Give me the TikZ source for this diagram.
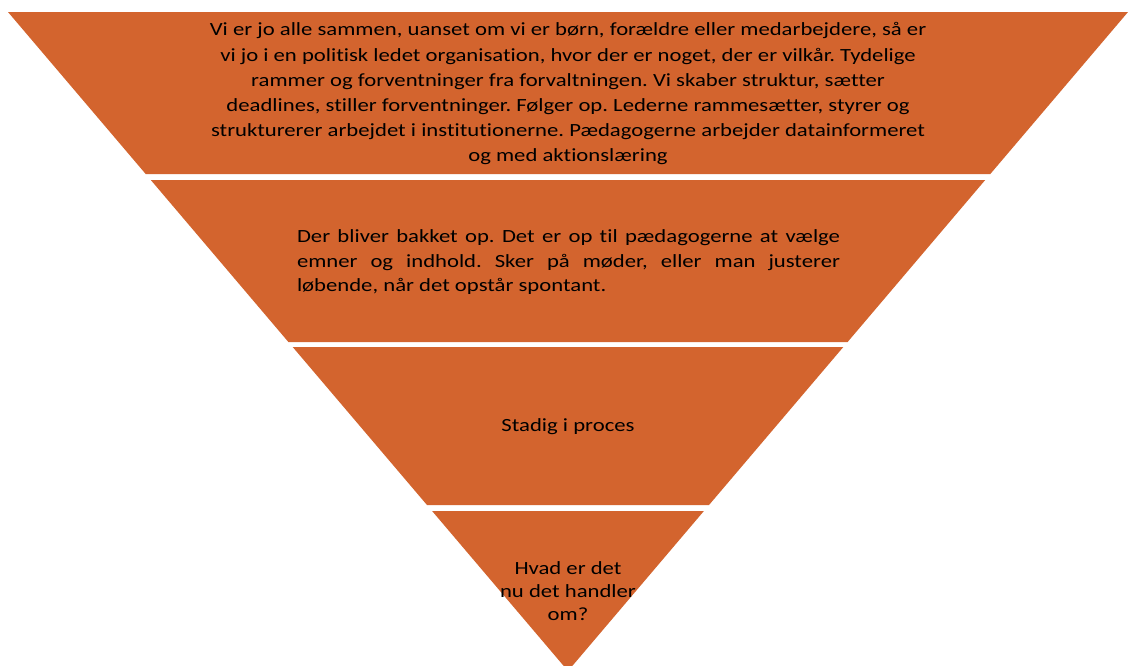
\documentclass[tikz,border=0pt]{standalone}
\usepackage{fontspec}
\setmainfont{Carlito}[FakeStretch=1.22,Ligatures=NoCommon]
\definecolor{pyramid}{HTML}{D3642E}
\frenchspacing

\begin{document}
\begin{tikzpicture}[x=1pt,y=-1pt,
    band/.style={fill=pyramid,draw=none},
    bandtext/.style={font=\fontsize{18.6}{24.5}\selectfont,align=center,inner sep=0pt}]
    \clip (0,0) rectangle (1128,665);
    \fill[white] (0,0) rectangle (1128,665);
    % four slices of the inverted triangle
    \fill[band] (8,12) -- (1128,12) -- (990.3,174) -- (145.7,174) -- cycle;
    \fill[band] (150.8,180) -- (985.2,180) -- (847.6,342) -- (288.4,342) -- cycle;
    \fill[band] (292.7,347) -- (843.3,347) -- (709.0,505) -- (427.0,505) -- cycle;
    \fill[band] (432.1,511) -- (703.9,511) -- (568,671) -- cycle;
    % texts
    \node[bandtext,font=\fontsize{18.6}{25.2}\selectfont] (rammer) at (568,94) {Vi er jo alle sammen, uanset om vi er børn, forældre eller medarbejdere, så er\\
        vi jo i en politisk ledet organisation, hvor der er noget, der er vilkår. Tydelige\\
        rammer og forventninger fra forvaltningen. Vi skaber struktur, sætter\\
        deadlines, stiller forventninger. Følger op. Lederne rammesætter, styrer og\\
        strukturerer arbejdet i institutionerne. Pædagogerne arbejder datainformeret\\
        og med aktionslæring};
    \node[bandtext,align=justify,text width=543pt] (bakket) at (568.5,262.5) {Der bliver bakket op. Det er op til pædagogerne at vælge\linebreak
        emner og indhold. Sker på møder, eller man justerer\linebreak
        løbende, når det opstår spontant.};
    \node[bandtext] (proces) at (568,427) {Stadig i proces};
    \node[bandtext,font=\fontsize{18.6}{23.3}\selectfont] (handler) at (568,591) {Hvad er det\\nu det handler\\om?};
\end{tikzpicture}
\end{document}
